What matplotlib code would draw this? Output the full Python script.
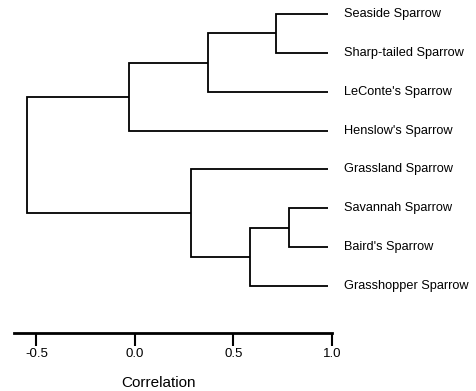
import matplotlib
matplotlib.use('Agg')
import matplotlib.pyplot as plt

# Leaf labels, top to bottom
species = ['Seaside Sparrow', 'Sharp-tailed Sparrow', "LeConte's Sparrow",
           "Henslow's Sparrow", 'Grassland Sparrow', 'Savannah Sparrow',
           "Baird's Sparrow", 'Grasshopper Sparrow']
leaf_corr = 0.98

# Merges: (left member, right member, correlation at join)
# members are leaf indices or 'n#' for earlier joins
merges = [
    (0, 1, 0.716),        # n0 Seaside + Sharp-tailed
    ('n0', 2, 0.371),     # n1 + LeConte's
    ('n1', 3, -0.030),    # n2 + Henslow's
    (5, 6, 0.782),        # n3 Savannah + Baird's
    ('n3', 7, 0.584),     # n4 + Grasshopper
    (4, 'n4', 0.284),     # n5 Grassland + rest
    ('n2', 'n5', -0.548), # n6 root
]

xticks = [-0.5, 0.0, 0.5, 1.0]
xticklabels = ['-0.5', '0.0', '0.5', '1.0']

plt.rcParams['font.family'] = ['Liberation Sans', 'DejaVu Sans']

fig = plt.figure(figsize=(4.77, 3.91), dpi=100)
ax = fig.add_axes([14 / 477, 58 / 391, (332 - 14) / 477, 333 / 391])

nodes = {}
for i in range(len(species)):
    nodes[i] = (leaf_corr, i)

lw = 1.3
for k, (a, b, c) in enumerate(merges):
    xa, ya = nodes[a]
    xb, yb = nodes[b]
    ax.plot([xa, c, c, xb], [ya, ya, yb, yb], color='black', lw=lw,
            solid_capstyle='butt', solid_joinstyle='miter')
    nodes['n%d' % k] = (c, (ya + yb) / 2)

for i, name in enumerate(species):
    ax.text(1.06, i, name, ha='left', va='center', fontsize=9.2,
            clip_on=False)

ax.set_xlim(-0.614, 1.0)
ax.set_ylim(8.21, -0.36)

for s in ['top', 'right', 'left']:
    ax.spines[s].set_visible(False)
ax.spines['bottom'].set_linewidth(2)
ax.set_yticks([])
ax.set_xticks(xticks)
ax.set_xticklabels(xticklabels, fontsize=9.5)
ax.tick_params(axis='x', direction='out', length=9, width=1.5, pad=2)
ax.set_xlabel('Correlation', fontsize=11, va='center')
ax.xaxis.set_label_coords(159 / 477, 1 - 383 / 391, transform=fig.transFigure)

plt.savefig('out.png', dpi=100)
